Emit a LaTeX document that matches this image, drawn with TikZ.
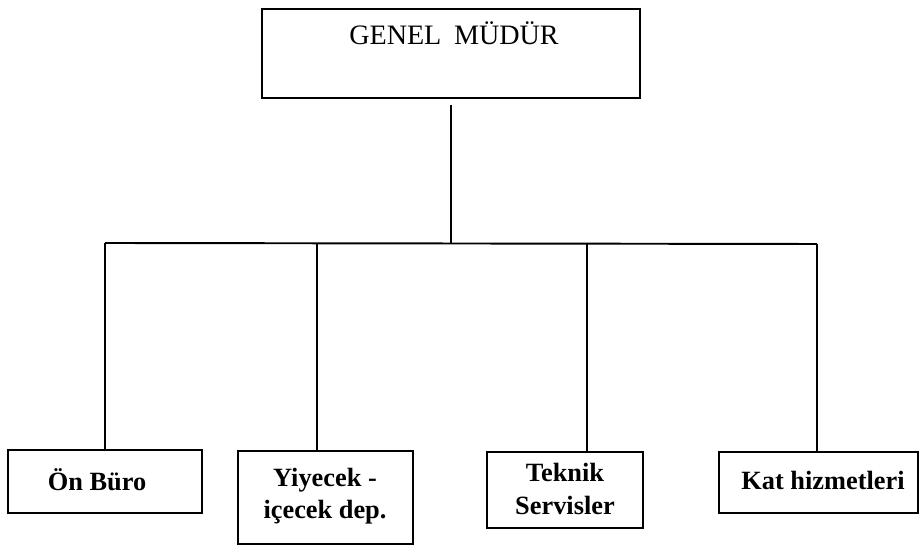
\documentclass[tikz,border=0pt]{standalone}
\usepackage{fontspec}
\setmainfont{Liberation Serif}
\usetikzlibrary{positioning}

\begin{document}
\begin{tikzpicture}[x=0.02cm, y=-0.02cm, line width=1.1pt,
	unit/.style={draw, rectangle, inner sep=0pt},
	headfont/.style={font=\fontsize{16}{19}\selectfont},
	unitfont/.style={font=\fontsize{15}{18.5}\selectfont\bfseries, align=center, inner sep=0pt}]

	\useasboundingbox (0,0) rectangle (921,546);

	% draw head box
	\node[unit, minimum width=7.56cm, minimum height=1.78cm] (gm) at (451,53.5) {};
	\node[headfont, anchor=base] (gm_t) at (454,45) {GENEL\hspace{0.45em}MÜDÜR};

	% draw unit boxes
	\node[unit, minimum width=3.88cm, minimum height=1.26cm] (buro) at (105,481.5) {};
	\node[unit, minimum width=3.50cm, minimum height=1.86cm] (yiyecek) at (325.5,497.5) {};
	\node[unit, minimum width=3.12cm, minimum height=1.52cm] (teknik) at (565,490) {};
	\node[unit, minimum width=3.98cm, minimum height=1.22cm] (kat) at (818.5,482.5) {};

	\node[unitfont] (buro_t) at (97,480) {Ön Büro};
	\node[unitfont, anchor=north] (yiyecek_t) at (325,467) {Yiyecek -\\içecek dep.};
	\node[unitfont] (teknik_t) at (565,489) {Teknik\\Servisler};
	\node[unitfont] (kat_t) at (823,480) {Kat hizmetleri};

	% draw bus
	\coordinate (d_1) at (105,243);
	\coordinate (d_2) at (317,243);
	\coordinate (d_3) at (587,244);
	\coordinate (d_4) at (817,244);
	\draw ([yshift=-3.4pt]gm.south) -- (gm.south |- d_2);
	\draw (d_1) -- (d_4);

	% draw drops
	\foreach \s/\t in {1/buro,2/yiyecek,3/teknik,4/kat}
	{
		\draw (d_\s) -- (d_\s |- \t.north);
	}

\end{tikzpicture}
\end{document}
